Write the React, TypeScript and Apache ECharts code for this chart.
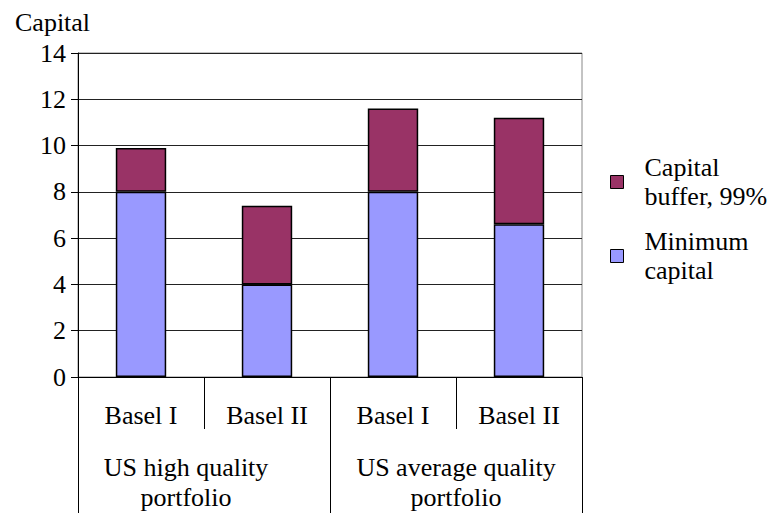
import React, { useEffect, useRef } from "react";
import * as echarts from "echarts";

const categories = ["Basel I", "Basel II", "Basel I", "Basel II"];
const groups = ["US high quality\nportfolio", "US average quality\nportfolio"];
const minimumCapital = [8.0, 4.0, 8.0, 6.6];
const capitalBuffer = [1.9, 3.4, 3.6, 4.6];
const yTicks = { min: 0, max: 14, interval: 2 };
const seriesNames = ["Minimum\ncapital", "Capital\nbuffer, 99%"];

const FONT = "'Liberation Serif', 'Times New Roman', serif";
const FS = 26;

export default function App() {
  const ref = useRef<HTMLDivElement>(null);
  useEffect(() => {
    if (!ref.current) return;
    const chart = echarts.init(ref.current, undefined, { renderer: "svg" });
    chart.setOption({
      animation: false,
      backgroundColor: "#ffffff",
      textStyle: { fontFamily: FONT, color: "#000" },
      title: {
        text: "Capital",
        left: 10,
        top: 4,
        textStyle: { fontFamily: FONT, fontSize: FS, fontWeight: "normal", color: "#000" },
      },
      grid: {
        left: 78,
        right: 192,
        top: 53,
        bottom: 136,
        show: true,
        borderColor: "#888",
        borderWidth: 1,
        backgroundColor: "transparent",
      },
      legend: {
        orient: "vertical",
        left: 605,
        top: 148,
        icon: "rect",
        itemWidth: 13,
        itemHeight: 13,
        itemGap: 16,
        data: [seriesNames[1], seriesNames[0]],
        itemStyle: { borderColor: "#000", borderWidth: 1 },
        textStyle: { fontFamily: FONT, fontSize: FS, lineHeight: 29, color: "#000", padding: [0, 0, 0, 16] },
      },
      xAxis: [
        {
          type: "category",
          data: categories,
          position: "bottom",
          axisLine: { show: true, lineStyle: { color: "#000", width: 1 } },
          axisTick: { show: true, interval: 0, length: 52, lineStyle: { color: "#000" } },
          axisLabel: { interval: 0, margin: 25, fontSize: FS, fontFamily: FONT, color: "#000" },
          splitLine: { show: false },
        },
        {
          type: "category",
          data: [
            { value: groups[0], textStyle: { fontFamily: FONT, fontSize: FS, lineHeight: 30, color: "#000", padding: [0, 36, 0, 0] } },
            { value: groups[1] },
          ],
          position: "bottom",
          axisLine: { show: false },
          axisTick: { show: true, interval: 0, length: 136, lineStyle: { color: "#000" } },
          axisLabel: { interval: 0, margin: 75, fontSize: FS, lineHeight: 30, fontFamily: FONT, color: "#000" },
          splitLine: { show: false },
        },
      ],
      yAxis: {
        type: "value",
        min: yTicks.min,
        max: yTicks.max,
        interval: yTicks.interval,
        axisLine: { show: true, lineStyle: { color: "#000", width: 1 } },
        axisTick: { show: true, length: 7, lineStyle: { color: "#000" } },
        axisLabel: { margin: 12, fontSize: FS, fontFamily: FONT, color: "#000" },
        splitLine: { show: true, lineStyle: { color: "#222", width: 1 } },
      },
      series: [
        {
          name: seriesNames[0],
          type: "bar",
          stack: "total",
          barWidth: "40%",
          data: minimumCapital,
          itemStyle: { color: "#9999FF", borderColor: "#000", borderWidth: 1.5 },
        },
        {
          name: seriesNames[1],
          type: "bar",
          stack: "total",
          barWidth: "40%",
          data: capitalBuffer,
          itemStyle: { color: "#993366", borderColor: "#000", borderWidth: 1.5 },
        },
      ],
    });
    return () => chart.dispose();
  }, []);
  return (
    <div
      ref={ref}
      style={{ position: "fixed", left: 0, top: 0, width: 774, height: 513 }}
    />
  );
}
